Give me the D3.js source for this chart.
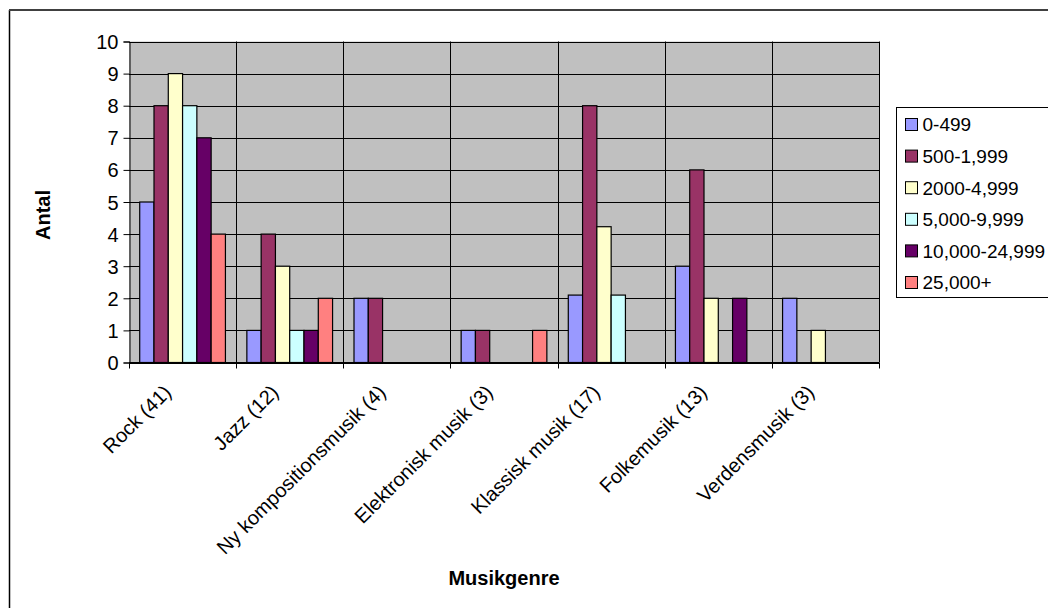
<!DOCTYPE html>
<html>
<head>
<meta charset="utf-8">
<script src="https://cdn.jsdelivr.net/npm/d3@7"></script>
<style>
  html, body { margin: 0; padding: 0; background: #fff; }
  svg text { font-family: "Liberation Sans", Arial, sans-serif; fill: #000; }
</style>
</head>
<body>
<svg id="chart" width="1048" height="608"></svg>
<script>
// Genres on the x axis
const categories = [
  "Rock (41)", "Jazz (12)", "Ny kompositionsmusik (4)", "Elektronisk musik (3)",
  "Klassisk musik (17)", "Folkemusik (13)", "Verdensmusik (3)"
];
// Size bands (legend)
const seriesNames = ["0-499", "500-1,999", "2000-4,999", "5,000-9,999", "10,000-24,999", "25,000+"];
const seriesColors = ["#9999FF", "#993366", "#FFFFCC", "#CCFFFF", "#660066", "#FF8080"];
// Counts per size band, one value per genre
const s0_499        = [5, 1, 2, 1, 2.1, 3, 2];
const s500_1999     = [8, 4, 2, 1, 8,   6, 0];
const s2000_4999    = [9, 3, 0, 0, 4.23, 2, 1];
const s5000_9999    = [8, 1, 0, 0, 2.1, 0, 0];
const s10000_24999  = [7, 1, 0, 0, 0,   2, 0];
const s25000plus    = [4, 2, 0, 1, 0,   0, 0];
const yTicks = [0, 1, 2, 3, 4, 5, 6, 7, 8, 9, 10];

const seriesValues = [s0_499, s500_1999, s2000_4999, s5000_9999, s10000_24999, s25000plus];

const svg = d3.select("#chart");
const plot = { left: 129, right: 879, top: 41.5, bottom: 362.5 };
const fontSize = "20px";

// Outer chart frame
svg.append("line").attr("x1", 9.5).attr("x2", 9.5).attr("y1", 10).attr("y2", 608)
  .attr("stroke", "#000").attr("stroke-width", 1.5);
svg.append("line").attr("x1", 9).attr("x2", 1048).attr("y1", 10).attr("y2", 10)
  .attr("stroke", "#404040").attr("stroke-width", 2);

const x = d3.scaleBand().domain(categories).range([plot.left, plot.right]).padding(0);
const bw = x.bandwidth();
const barW = bw / (seriesNames.length + 1.5);
const xs = d3.scaleBand().domain(d3.range(seriesNames.length))
  .range([barW * 0.75, bw - barW * 0.75]).padding(0);
const y = d3.scaleLinear().domain([0, 10]).range([plot.bottom, plot.top]);

// Plot background
svg.append("rect")
  .attr("x", plot.left).attr("y", plot.top)
  .attr("width", plot.right - plot.left).attr("height", plot.bottom - plot.top)
  .attr("fill", "#C0C0C0");

// Horizontal gridlines
svg.append("g").selectAll("line").data(yTicks).join("line")
  .attr("x1", plot.left).attr("x2", plot.right)
  .attr("y1", d => Math.round(y(d)) + 0.5).attr("y2", d => Math.round(y(d)) + 0.5)
  .attr("stroke", "#000").attr("stroke-width", 1);

// Vertical gridlines between genres
svg.append("g").selectAll("line").data(categories.slice(1)).join("line")
  .attr("x1", d => Math.round(x(d)) + 0.5).attr("x2", d => Math.round(x(d)) + 0.5)
  .attr("y1", plot.top).attr("y2", plot.bottom)
  .attr("stroke", "#000").attr("stroke-width", 1);

// Right edge of plot
svg.append("line")
  .attr("x1", plot.right + 0.5).attr("x2", plot.right + 0.5)
  .attr("y1", plot.top).attr("y2", plot.bottom)
  .attr("stroke", "#000");

// Bars
const groups = svg.append("g").selectAll("g").data(categories).join("g")
  .attr("transform", d => `translate(${x(d)},0)`);
groups.selectAll("rect")
  .data((d, ci) => seriesValues.map((vals, si) => ({ si, v: vals[ci] })).filter(e => e.v > 0))
  .join("rect")
  .attr("x", e => xs(e.si))
  .attr("width", xs.bandwidth())
  .attr("y", e => y(e.v))
  .attr("height", e => y(0) - y(e.v))
  .attr("fill", e => seriesColors[e.si])
  .attr("stroke", "#000").attr("stroke-width", 1.2);

// Y axis
const yAxis = svg.append("g").attr("transform", `translate(${plot.left + 0.5},0)`)
  .call(d3.axisLeft(y).tickValues(yTicks).tickSize(6).tickPadding(5).tickFormat(d3.format("d")));
yAxis.select(".domain").attr("stroke", "#000");
yAxis.selectAll("text").style("font-size", fontSize).attr("dy", "0.35em");

// X axis with ticks at genre boundaries
const xAxisG = svg.append("g");
xAxisG.append("line").attr("x1", plot.left).attr("x2", plot.right)
  .attr("y1", plot.bottom).attr("y2", plot.bottom).attr("stroke", "#000");
const boundaries = categories.map(c => x(c)).concat([plot.right]);
xAxisG.selectAll("line.tick").data(boundaries).join("line").attr("class", "tick")
  .attr("x1", d => Math.round(d) + 0.5).attr("x2", d => Math.round(d) + 0.5)
  .attr("y1", plot.bottom).attr("y2", plot.bottom + 6).attr("stroke", "#000");
xAxisG.selectAll("text").data(categories).join("text")
  .attr("transform", d => `translate(${x(d) + bw / 2 - 10},${plot.bottom + 31}) rotate(-45)`)
  .attr("text-anchor", "end")
  .style("font-size", fontSize)
  .text(d => d);

// Axis titles
svg.append("text")
  .attr("transform", `translate(50,215) rotate(-90)`)
  .attr("text-anchor", "middle")
  .style("font-size", fontSize).style("font-weight", "bold")
  .text("Antal");
svg.append("text")
  .attr("x", (plot.left + plot.right) / 2).attr("y", 585)
  .attr("text-anchor", "middle")
  .style("font-size", fontSize).style("font-weight", "bold")
  .text("Musikgenre");

// Legend
const legend = svg.append("g").attr("transform", "translate(896.5,107.5)");
legend.append("rect").attr("width", 170).attr("height", 190)
  .attr("fill", "#fff").attr("stroke", "#000");
const items = legend.selectAll("g").data(seriesNames).join("g")
  .attr("transform", (d, i) => `translate(0,${17 + i * 31.6})`);
items.append("rect").attr("x", 9).attr("y", -6).attr("width", 12).attr("height", 12)
  .attr("fill", (d, i) => seriesColors[i]).attr("stroke", "#000");
items.append("text").attr("x", 26).attr("dy", "0.36em")
  .style("font-size", "19px").text(d => d);
</script>
</body>
</html>
